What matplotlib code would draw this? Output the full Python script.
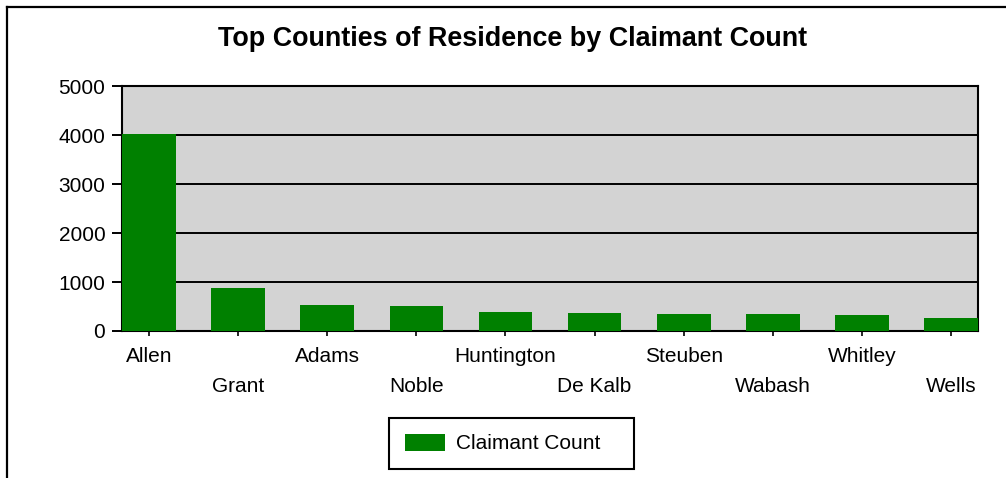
import matplotlib
matplotlib.use('Agg')
import matplotlib.pyplot as plt
from matplotlib.lines import Line2D

counties = ['Allen', 'Grant', 'Adams', 'Noble', 'Huntington', 'De Kalb',
            'Steuben', 'Wabash', 'Whitley', 'Wells']
claimants = [4030, 871, 537, 510, 381, 376, 354, 340, 326, 272]
yticks = [0, 1000, 2000, 3000, 4000, 5000]

plt.rcParams['font.family'] = ['Liberation Sans', 'DejaVu Sans']

W, H = 1006, 478
fig = plt.figure(figsize=(W / 100, H / 100), dpi=100)
fig.patch.set_facecolor('white')

# outer frame (top and left edges visible)
fig.add_artist(Line2D([7 / W, 1], [1 - 7 / H, 1 - 7 / H], color='black', lw=1.6,
                      transform=fig.transFigure))
fig.add_artist(Line2D([7 / W, 7 / W], [0, 1 - 7 / H], color='black', lw=1.6,
                      transform=fig.transFigure))

ax = fig.add_axes([122 / W, 147 / H, 856 / W, 245 / H])
ax.set_facecolor('#d3d3d3')
x = list(range(len(counties)))
ax.bar(x, claimants, width=0.6, color='#008000', label='Claimant Count', zorder=3)

ax.set_ylim(0, 5000)
ax.set_xlim(-0.3, 9.3)
ax.set_yticks(yticks)
ax.set_yticklabels([str(v) for v in yticks], fontsize=15)
ax.yaxis.grid(True, color='black', lw=1.4, zorder=1)
ax.set_axisbelow(True)
ax.tick_params(axis='y', length=7, width=1.4, pad=5)
ax.tick_params(axis='x', length=3.5, width=1.2, pad=8)

ax.set_xticks(x)
ax.set_xticklabels(counties, fontsize=15)
for i, lab in enumerate(ax.get_xticklabels()):
    if i % 2 == 1:
        lab.set_y(-0.122)

for s in ax.spines.values():
    s.set_linewidth(1.5)
    s.set_color('black')

fig.text(513 / W, 1 - 39.5 / H, 'Top Counties of Residence by Claimant Count',
         ha='center', va='center', fontsize=19.4, fontweight='bold')

leg = fig.legend(loc='center', bbox_to_anchor=(389 / W, 1 - 466 / H, 245 / W, 45 / H),
                 mode='expand', borderaxespad=0, fontsize=15, fancybox=False,
                 edgecolor='black', framealpha=1, handlelength=1.95, handleheight=0.9,
                 handletextpad=0.5, borderpad=0.75)
leg.get_frame().set_linewidth(1.5)

fig.savefig('out.png', dpi=100)
